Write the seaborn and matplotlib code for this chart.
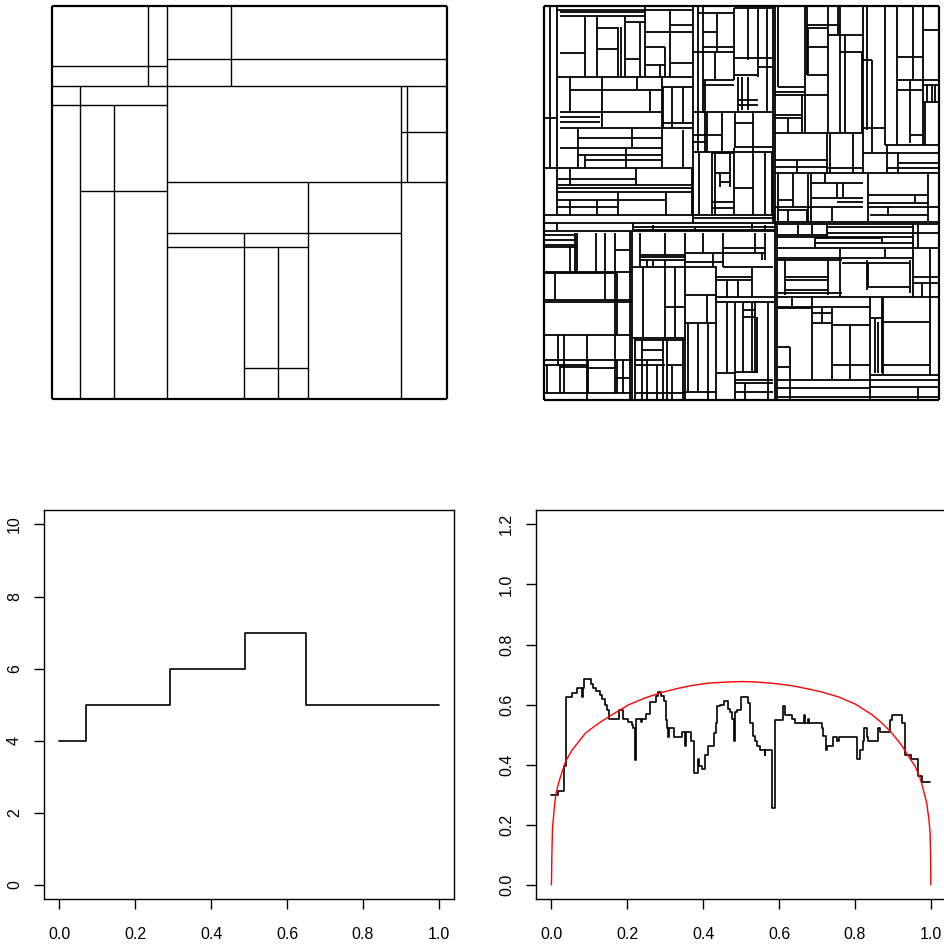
import matplotlib
matplotlib.use("Agg")
import matplotlib.pyplot as plt
import seaborn as sns
import pandas as pd

# ---- top-left partition (coords, y downwards) ----
tl_box = (37, 1220, 17, 1198)
tl_h = [(198, 37, 383), (259, 37, 1220), (178, 383, 1220), (314, 37, 383),
        (396, 1082, 1220), (545, 383, 1220), (572, 120, 383), (700, 383, 1082),
        (742, 383, 803), (1103, 612, 803)]
tl_v = [(325, 17, 259), (383, 17, 1198), (574, 17, 259), (120, 259, 1198),
        (224, 314, 1198), (1082, 259, 1198), (1102, 259, 545), (803, 545, 1198),
        (612, 700, 1198), (715, 742, 1198)]

# ---- top-right partition ----
tr_box = (27, 1212, 17, 1200)
tr_h = [
    (30, 67, 473), (35, 75, 330), (48, 75, 330), (160, 75, 150), (85, 185, 250),
    (148, 185, 250), (65, 270, 330), (178, 270, 315), (95, 330, 473), (75, 405, 473),
    (140, 330, 390), (195, 330, 390), (190, 405, 473), (232, 67, 473), (270, 105, 380),
    (335, 75, 380), (262, 380, 473), (370, 380, 473), (350, 75, 195), (365, 75, 195),
    (385, 75, 473), (355, 27, 67), (415, 130, 380), (445, 75, 380), (465, 130, 380),
    (480, 150, 380), (505, 27, 473), (538, 67, 303), (555, 67, 470), (565, 67, 470),
    (575, 67, 470), (600, 67, 390), (620, 67, 250), (645, 27, 473), (668, 27, 720),
    (40, 488, 597), (95, 505, 545), (140, 505, 597), (155, 473, 597), (240, 505, 597),
    (255, 505, 597), (335, 473, 597), (25, 597, 715), (175, 597, 715), (200, 670, 715),
    (225, 597, 670), (300, 610, 670), (315, 610, 670), (405, 473, 560), (425, 473, 510),
    (337, 597, 715), (370, 600, 655), (440, 597, 715), (455, 473, 715), (460, 530, 595),
    (520, 540, 585), (545, 555, 585), (565, 598, 655), (605, 535, 598), (625, 535, 598),
    (645, 473, 720), (655, 473, 720),
    (260, 730, 810), (275, 720, 810), (285, 720, 880), (75, 815, 915), (85, 815, 880),
    (140, 815, 880), (225, 815, 880), (105, 880, 985), (155, 915, 985), (400, 720, 985),
    (180, 985, 1010), (385, 985, 1050), (90, 1165, 1212), (170, 1085, 1165),
    (240, 1085, 1212), (270, 1085, 1165), (255, 1165, 1212), (305, 1165, 1212),
    (405, 1125, 1165), (345, 720, 800), (355, 720, 800), (435, 1050, 1212),
    (460, 985, 1212), (480, 720, 880), (500, 720, 880), (505, 880, 985), (520, 720, 1212),
    (490, 1090, 1212), (505, 1055, 1212), (600, 730, 775), (620, 720, 985),
    (550, 828, 985), (595, 828, 985), (605, 905, 985), (630, 730, 820), (585, 1000, 1180),
    (610, 1000, 1180), (620, 1000, 1212), (645, 1005, 1180), (665, 720, 1212),
    (672, 720, 1212),
    (693, 27, 720), (680, 295, 720), (690, 295, 720), (705, 27, 120), (720, 27, 120),
    (735, 27, 120), (740, 27, 125), (750, 240, 285), (815, 27, 290), (820, 27, 240),
    (900, 27, 290), (905, 27, 290), (1005, 27, 290), (1080, 27, 290), (1095, 27, 160),
    (1100, 75, 155), (1180, 27, 290), (1105, 160, 240), (1135, 240, 285), (765, 315, 450),
    (770, 315, 450), (780, 315, 450), (800, 295, 545), (760, 450, 690), (745, 565, 690),
    (785, 450, 565), (800, 565, 715), (920, 390, 450), (1015, 295, 450), (885, 450, 545),
    (970, 450, 545), (1175, 450, 545), (830, 543, 650), (840, 543, 650), (890, 543, 720),
    (905, 543, 720), (930, 625, 660), (950, 625, 660), (1115, 600, 670), (1140, 600, 715),
    (1150, 600, 715), (1175, 600, 715), (1120, 545, 600), (1050, 320, 385),
    (1080, 300, 385), (1095, 300, 390), (1020, 300, 450), (1095, 395, 445),
    (1180, 300, 450),
    (705, 725, 880), (680, 880, 1135), (700, 880, 1135), (710, 725, 1135),
    (715, 840, 1040), (730, 840, 1135), (745, 725, 1135), (700, 1135, 1212),
    (745, 1135, 1212), (775, 725, 1135), (780, 725, 920), (830, 750, 880), (840, 750, 880),
    (870, 750, 880), (880, 725, 920), (790, 920, 1125), (860, 1000, 1125),
    (830, 1135, 1212), (850, 1135, 1212), (890, 725, 1212), (920, 725, 1005),
    (925, 725, 830), (940, 830, 890), (970, 830, 890), (975, 890, 1005), (1095, 890, 1005),
    (955, 1005, 1040), (965, 1045, 1185), (1095, 1045, 1185), (1125, 1005, 1212),
    (1140, 725, 1212), (1040, 725, 765), (1100, 725, 765), (1165, 725, 1005),
    (1160, 1005, 1212), (1190, 725, 1212),
]
tr_v = [
    (45, 17, 505), (65, 17, 645), (473, 17, 668), (150, 48, 232), (185, 48, 232),
    (250, 80, 232), (258, 80, 232), (270, 48, 232), (315, 65, 232), (330, 17, 232),
    (405, 30, 95), (390, 140, 232), (405, 95, 232), (375, 195, 232), (105, 232, 335),
    (200, 232, 385), (305, 232, 270), (345, 270, 335), (380, 232, 505), (410, 262, 385),
    (383, 262, 385), (445, 262, 370), (130, 385, 505), (290, 385, 445), (150, 465, 505),
    (272, 445, 505), (445, 390, 505), (105, 505, 555), (303, 505, 555), (470, 505, 645),
    (105, 600, 645), (185, 600, 645), (250, 575, 645), (393, 575, 645),
    (488, 17, 455), (505, 17, 340), (545, 40, 155), (597, 25, 240), (540, 155, 240),
    (510, 240, 455), (640, 25, 180), (670, 25, 230), (695, 25, 335), (610, 230, 335),
    (620, 230, 330), (640, 230, 330), (517, 340, 455), (560, 340, 455), (600, 335, 440),
    (655, 335, 440), (715, 17, 665), (493, 455, 645), (530, 455, 645), (540, 455, 645),
    (585, 460, 560), (555, 520, 560), (598, 445, 645), (655, 445, 645), (690, 455, 645),
    (710, 455, 645),
    (720, 17, 1200), (730, 17, 260), (810, 17, 285), (815, 17, 225), (880, 17, 400),
    (820, 85, 225), (910, 17, 105), (915, 17, 400), (930, 105, 400), (980, 155, 400),
    (985, 17, 520), (995, 17, 390), (1010, 180, 455), (1050, 17, 435), (1085, 17, 435),
    (1135, 17, 240), (1165, 17, 240), (1125, 240, 430), (1165, 240, 435),
    (1175, 255, 305), (1190, 255, 305), (1200, 255, 305), (1170, 305, 435),
    (760, 355, 400), (800, 285, 400), (810, 285, 400), (875, 400, 520), (885, 400, 520),
    (955, 400, 520), (785, 480, 520), (1090, 460, 520), (1055, 435, 520), (730, 520, 665),
    (775, 520, 620), (820, 520, 665), (828, 520, 665), (870, 520, 550), (905, 550, 595),
    (925, 550, 595), (890, 620, 665), (760, 630, 665), (815, 630, 665), (1000, 520, 665),
    (1180, 520, 665), (1140, 585, 610), (1060, 620, 645),
    (65, 668, 693), (295, 668, 693), (355, 675, 693), (480, 680, 693), (650, 668, 693),
    (690, 675, 693), (290, 693, 1200), (120, 698, 815), (105, 740, 815), (125, 698, 815),
    (183, 698, 815), (210, 698, 815), (240, 698, 1005), (60, 820, 900), (210, 820, 900),
    (245, 815, 1005), (285, 695, 1200), (70, 1005, 1095), (87, 1005, 1180),
    (155, 1005, 1200), (240, 1005, 1180), (75, 1095, 1180), (35, 1095, 1180),
    (160, 1080, 1180), (265, 1080, 1180), (245, 1080, 1180), (315, 698, 800),
    (390, 698, 765), (450, 698, 1200), (335, 780, 800), (355, 780, 800), (390, 780, 800),
    (505, 698, 760), (565, 698, 800), (660, 698, 760), (690, 698, 780), (535, 760, 800),
    (680, 760, 780), (325, 800, 1015), (390, 800, 1015), (420, 800, 1015),
    (515, 885, 970), (490, 970, 1175), (460, 970, 1175), (518, 970, 1200),
    (543, 800, 1200), (575, 840, 890), (610, 840, 890), (650, 805, 890), (575, 905, 1120),
    (600, 905, 1200), (625, 905, 1120), (650, 905, 1120), (660, 905, 1120),
    (665, 950, 1120), (700, 905, 1200), (630, 1150, 1200), (300, 1015, 1200),
    (320, 1020, 1200), (335, 1080, 1200), (365, 1095, 1200), (385, 1020, 1200),
    (395, 1020, 1200), (410, 1095, 1200), (445, 1020, 1200),
    (725, 672, 1200), (790, 675, 705), (830, 675, 705), (875, 675, 710), (840, 715, 745),
    (1040, 715, 730), (1135, 672, 890), (1150, 672, 745), (915, 745, 890),
    (1050, 745, 775), (750, 780, 885), (880, 780, 885), (995, 780, 870), (1000, 790, 860),
    (1125, 780, 880), (1185, 745, 890), (1160, 850, 890), (770, 890, 920),
    (830, 890, 1140), (890, 925, 1140), (860, 925, 970), (945, 975, 1140),
    (1005, 890, 1140), (1040, 890, 1120), (1020, 955, 1120), (1030, 965, 1120),
    (1045, 890, 1125), (1185, 890, 1125), (765, 1040, 1200), (1005, 1140, 1200),
    (1150, 1160, 1200),
]

# ---- bottom-left step function ----
bl_x = [0.0, 0.071, 0.292, 0.488, 0.649, 1.0]
bl_y = [4, 5, 6, 7, 5, 5]

# ---- bottom-right step function and red curve ----
br_x = [0.000, 0.016, 0.033, 0.038, 0.053, 0.066, 0.080, 0.083, 0.086, 0.1035,
        0.110, 0.118, 0.127, 0.134, 0.141, 0.147, 0.151, 0.178, 0.189, 0.2026,
        0.211, 0.215, 0.220, 0.224, 0.235, 0.2395, 0.248, 0.261, 0.2745, 0.2815,
        0.288, 0.296, 0.3026, 0.305, 0.308, 0.310, 0.323, 0.345, 0.353, 0.355,
        0.3666, 0.375, 0.3868, 0.389, 0.396, 0.406, 0.413, 0.428, 0.4325, 0.437,
        0.4455, 0.454, 0.466, 0.4695, 0.475, 0.4805, 0.483, 0.489, 0.5008, 0.518,
        0.524, 0.530, 0.5355, 0.5415, 0.551, 0.562, 0.564, 0.5816, 0.5884, 0.6095,
        0.6165, 0.634, 0.641, 0.665, 0.6675, 0.676, 0.678, 0.713, 0.717, 0.7235,
        0.725, 0.741, 0.7525, 0.757, 0.805, 0.8137, 0.82, 0.825, 0.8313, 0.8357,
        0.862, 0.8664, 0.8927, 0.897, 0.9234, 0.932, 0.948, 0.967, 0.978, 0.998]
br_y = [0.299, 0.312, 0.397, 0.625, 0.639, 0.655, 0.625, 0.655, 0.685, 0.670,
        0.655, 0.644, 0.633, 0.619, 0.600, 0.583, 0.552, 0.583, 0.552, 0.541,
        0.533, 0.523, 0.417, 0.552, 0.541, 0.552, 0.569, 0.608, 0.6275, 0.641,
        0.6275, 0.612, 0.550, 0.523, 0.493, 0.523, 0.493, 0.508, 0.464, 0.508,
        0.478, 0.373, 0.4196, 0.395, 0.386, 0.434, 0.464, 0.506, 0.539, 0.594,
        0.600, 0.611, 0.5857, 0.575, 0.552, 0.478, 0.575, 0.581, 0.625, 0.606,
        0.539, 0.495, 0.478, 0.464, 0.4505, 0.434, 0.4505, 0.257, 0.550, 0.597,
        0.567, 0.552, 0.539, 0.567, 0.539, 0.552, 0.539, 0.523, 0.495, 0.4505,
        0.4615, 0.4927, 0.478, 0.4927, 0.4196, 0.4505, 0.478, 0.523, 0.4927, 0.478,
        0.523, 0.508, 0.550, 0.567, 0.539, 0.434, 0.4196, 0.362, 0.343, 0.343]
red_x = [0.0, 0.001, 0.0026, 0.007, 0.0113, 0.0189, 0.0289, 0.0376, 0.055, 0.0902,
         0.1254, 0.1604, 0.204, 0.2482, 0.292, 0.336, 0.371, 0.415, 0.4587, 0.5026,
         0.5464, 0.590, 0.634, 0.678, 0.7129, 0.757, 0.8006, 0.8444, 0.871, 0.897,
         0.9234, 0.941, 0.9587, 0.9716, 0.980, 0.989, 0.995, 0.998, 0.9995, 1.0]
red_y = [0.0, 0.096, 0.185, 0.251, 0.300, 0.340, 0.380, 0.412, 0.450, 0.506,
         0.539, 0.567, 0.600, 0.623, 0.641, 0.655, 0.664, 0.672, 0.675, 0.677,
         0.675, 0.670, 0.663, 0.652, 0.642, 0.6255, 0.602, 0.567, 0.539, 0.506,
         0.464, 0.428, 0.395, 0.356, 0.318, 0.2735, 0.218, 0.174, 0.096, 0.0]

sns.set_style("white")
plt.rcParams['font.family'] = ['Liberation Sans', 'DejaVu Sans']

fig = plt.figure(figsize=(9.44, 9.44), dpi=100)


def draw_partition(ax, box, hsegs, vsegs, lw):
    x0, x1, y0, y1 = box
    h = pd.DataFrame(hsegs, columns=["y", "x0", "x1"])
    v = pd.DataFrame(vsegs, columns=["x", "y0", "y1"])
    ax.hlines(h["y"], h["x0"], h["x1"], color="black", lw=lw, clip_on=False)
    ax.vlines(v["x"], v["y0"], v["y1"], color="black", lw=lw, clip_on=False)
    ax.hlines([y0, y1], x0, x1, color="black", lw=1.6, clip_on=False)
    ax.vlines([x0, x1], y0, y1, color="black", lw=1.6, clip_on=False)
    ax.set_xlim(x0, x1)
    ax.set_ylim(y1, y0)
    ax.axis("off")


ax_tl = fig.add_axes([52 / 944, 1 - 399.3 / 944, 394.7 / 944, 393.6 / 944])
draw_partition(ax_tl, tl_box, tl_h, tl_v, 1.0)

ax_tr = fig.add_axes([544 / 944, 1 - 400 / 944, 395 / 944, 394.3 / 944])
draw_partition(ax_tr, tr_box, tr_h, tr_v, 1.3)


def style_axes(ax, yticks, ylabels, ylim):
    ax.set_xlim(-0.04, 1.04)
    ax.set_ylim(*ylim)
    ax.set_xticks([0, 0.2, 0.4, 0.6, 0.8, 1.0], ["0.0", "0.2", "0.4", "0.6", "0.8", "1.0"])
    ax.set_yticks(yticks, ylabels, rotation=90, va="center")
    ax.tick_params(direction="out", length=7, width=1, labelsize=11.5, color="black",
                   labelcolor="black", left=True, bottom=True)
    ax.tick_params(axis="x", pad=13)
    ax.tick_params(axis="y", pad=9)
    for s in ax.spines.values():
        s.set_color("black")
        s.set_linewidth(1.0)
    ax.set_xlabel("")
    ax.set_ylabel("")


ax_bl = fig.add_axes([44.3 / 944, 1 - 899.3 / 944, 409.7 / 944, 389.3 / 944])
sns.lineplot(x=bl_x, y=bl_y, ax=ax_bl, color="black", lw=1.2, drawstyle="steps-post",
             estimator=None, sort=False)
style_axes(ax_bl, [0, 2, 4, 6, 8, 10], ["0", "2", "4", "6", "8", "10"], (-0.4, 10.4))

ax_br = fig.add_axes([536.3 / 944, 1 - 899.3 / 944, 409.7 / 944, 389.3 / 944])
sns.lineplot(x=br_x, y=br_y, ax=ax_br, color="black", lw=1.2, drawstyle="steps-post",
             estimator=None, sort=False)
sns.lineplot(x=red_x, y=red_y, ax=ax_br, color="red", lw=1.0, estimator=None, sort=False)
style_axes(ax_br, [0, 0.2, 0.4, 0.6, 0.8, 1.0, 1.2],
           ["0.0", "0.2", "0.4", "0.6", "0.8", "1.0", "1.2"], (-0.048, 1.248))

fig.savefig("out.png", dpi=100)
